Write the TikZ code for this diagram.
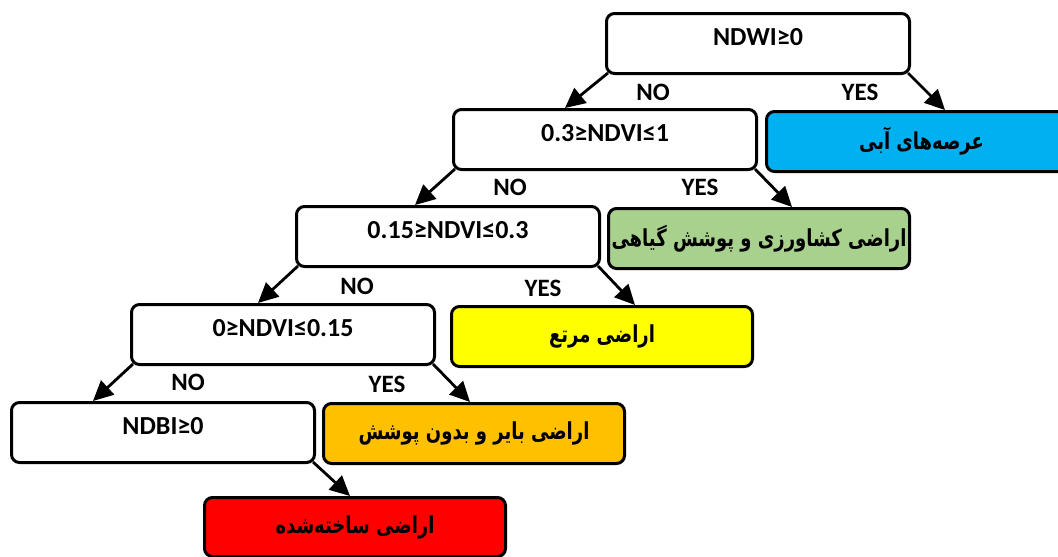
\documentclass[tikz,border=0pt]{standalone}
\usepackage{fontspec}
\usepackage{graphicx}
\setmainfont{Carlito}
\newfontfamily\fa[Script=Arabic]{DejaVu Sans}
\TeXXeTstate=1
\usetikzlibrary{arrows.meta}
\definecolor{cblue}{HTML}{00B0F0}
\definecolor{cgreen}{HTML}{A9D18E}
\definecolor{cyellow}{HTML}{FFFF00}
\definecolor{corange}{HTML}{FFC000}
\definecolor{cred}{HTML}{FF0000}
\newcommand{\fatext}[1]{\scalebox{1}[1.3]{\beginR #1\endR}}
\tikzset{
  testbox/.style={draw=black, line width=3pt, rounded corners=8pt, fill=white,
    minimum width=303pt, minimum height=60pt, anchor=north west, inner sep=0pt,
    text height=32pt, text depth=28pt, font=\fontsize{26}{30}\selectfont\bfseries},
  classbox/.style={draw=black, line width=3pt, rounded corners=8pt,
    minimum width=301pt, minimum height=60pt, anchor=north west, inner sep=0pt,
    font=\fontsize{18}{22}\fa\bfseries},
  conn/.style={line width=2.8pt, -{Triangle[length=20pt,width=19pt]}},
  lbl/.style={font=\fontsize{25}{28}\selectfont\bfseries, inner sep=0pt}
}
\begin{document}
\begin{tikzpicture}[x=1pt,y=-1pt]
\useasboundingbox (0,0) rectangle (1058,557);
\node[testbox] (A) at (605,12) {NDWI≥0};
\node[testbox] (B) at (452,108) {0.3≥NDVI≤1};
\node[testbox] (C) at (295,205) {0.15≥NDVI≤0.3};
\node[testbox] (D) at (130,303) {0≥NDVI≤0.15};
\node[testbox] (E) at (10,401) {NDBI≥0};
\node[classbox, fill=cblue, minimum width=310pt] (W) at (765,110) {\fatext{عرصه‌های آبی}};
\node[classbox, fill=cgreen] (G) at (607,207) {\fatext{اراضی کشاورزی و پوشش گیاهی}};
\node[classbox, fill=cyellow] (Y) at (450,305) {\fatext{اراضی مرتع}};
\node[classbox, fill=corange] (O) at (322,402) {\fatext{اراضی بایر و بدون پوشش}};
\node[classbox, fill=cred, minimum height=59pt] (R) at (203,496) {\fatext{اراضی ساخته‌شده}};
\draw[conn] ([xshift=3pt,yshift=2pt]A.south west) -- ([xshift=113pt]B.north west);
\draw[conn] ([xshift=-3pt,yshift=2pt]A.south east) -- ([xshift=180pt]W.north west);
\draw[conn] ([xshift=3pt,yshift=2pt]B.south west) -- ([xshift=120pt]C.north west);
\draw[conn] ([xshift=-3pt,yshift=2pt]B.south east) -- ([xshift=185pt]G.north west);
\draw[conn] ([xshift=3pt,yshift=2pt]C.south west) -- ([xshift=128pt]D.north west);
\draw[conn] ([xshift=-3pt,yshift=2pt]C.south east) -- ([xshift=185pt]Y.north west);
\draw[conn] ([xshift=3pt,yshift=2pt]D.south west) -- ([xshift=83pt]E.north west);
\draw[conn] ([xshift=-3pt,yshift=2pt]D.south east) -- ([xshift=148pt]O.north west);
\draw[conn] ([xshift=-3pt,yshift=2pt]E.south east) -- ([xshift=147pt]R.north west);
\node[lbl] (n1) at (653,92) {NO};
\node[lbl] (y1) at (860,92) {YES};
\node[lbl] (n2) at (510,187) {NO};
\node[lbl] (y2) at (700,187) {YES};
\node[lbl] (n3) at (357,286) {NO};
\node[lbl] (y3) at (543,288) {YES};
\node[lbl] (n4) at (188,382) {NO};
\node[lbl] (y4) at (387,384) {YES};
\end{tikzpicture}
\end{document}
